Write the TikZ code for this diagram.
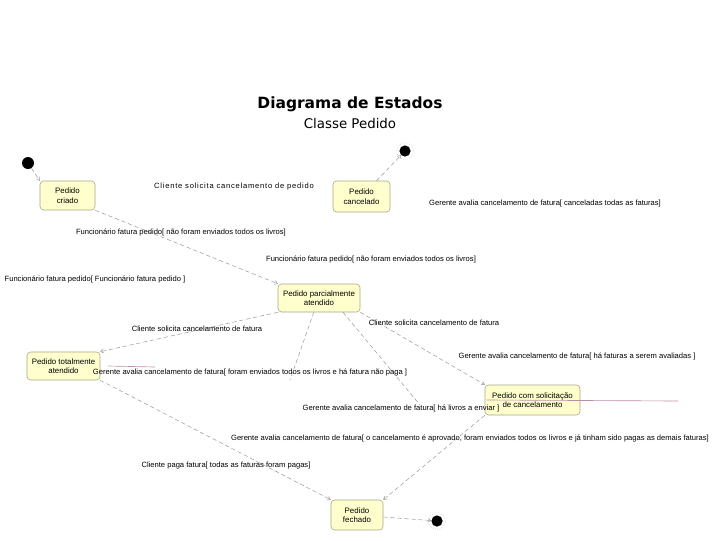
\documentclass[tikz,border=0pt]{standalone}
\usepackage{fontspec}
\setmainfont{Liberation Sans}
\newfontfamily\titlefont{DejaVu Sans}
\newfontfamily\widefont[LetterSpace=10]{Liberation Sans}
\usetikzlibrary{arrows.meta}
\definecolor{stateyellow}{RGB}{255,255,206}
\definecolor{stateborder}{RGB}{165,165,140}
\definecolor{linkgray}{RGB}{150,150,150}
\definecolor{mauve}{RGB}{190,140,170}

\begin{document}
\begin{tikzpicture}[x=0.025cm, y=-0.025cm,
    state/.style={draw=stateborder, fill=stateyellow, rounded corners=2.5pt, align=center,
                  font=\fontsize{5.6}{6.8}\selectfont, inner sep=1pt},
    initial/.style={circle, fill=black, inner sep=0pt, minimum size=0.3cm},
    final/.style={circle, fill=black, inner sep=0pt, minimum size=0.28cm},
    link/.style={-{To[length=2.5pt,width=3pt]}, draw=linkgray, densely dashed, line width=0.35pt},
    stub/.style={draw=mauve, line width=0.45pt},
    lbl/.style={font=\fontsize{5.4}{6.4}\selectfont, inner sep=0pt}]

    \useasboundingbox (0,0) rectangle (720,540);

    \node[font=\titlefont\bfseries\fontsize{11}{13}\selectfont] (titulo) at (350,104) {Diagrama de Estados};
    \node[font=\titlefont\fontsize{9.5}{11}\selectfont] (subtitulo) at (350,124) {Classe Pedido};

    \node[initial] (inicio) at (28,163) {};
    \node[final] (fimcancel) at (405,151) {};
    \node[final] (fimfechado) at (437,521) {};
    \foreach \n in {fimcancel,fimfechado} {
        \draw[gray!45, densely dotted] (\n) circle (0.21cm);
    }

    \node[state, minimum width=1.375cm, minimum height=0.725cm] (criado) at (67.5,195.5) {Pedido\\criado};
    \node[state, minimum width=1.425cm, minimum height=0.775cm] (cancelado) at (361.5,196.5) {Pedido\\cancelado};
    \node[state, minimum width=2.05cm, minimum height=0.7cm] (parcial) at (319,298) {Pedido parcialmente\\atendido};
    \node[state, minimum width=1.825cm, minimum height=0.7cm] (total) at (63.5,366) {Pedido totalmente\\atendido};
    \node[state, minimum width=2.375cm, minimum height=0.75cm] (solicitacao) at (532.5,400) {Pedido com solicitação\\de cancelamento};
    \node[state, minimum width=1.3cm, minimum height=0.75cm] (fechado) at (357,515) {Pedido\\fechado};

    \coordinate (pontaA) at (290,380);
    \coordinate (pontaB) at (420,405);
    \coordinate (rosaA) at (155,367);
    \coordinate (rosaB) at (678,401);

    \draw[link] (inicio) -- (criado.north west);
    \draw[link] (criado.south east) -- (parcial.north west);
    \draw[link] (cancelado) -- (fimcancel);
    \draw[link] (parcial.south west) -- (total.north east);
    \draw[link] (parcial.south east) -- (solicitacao.north west);
    \draw[link] (total.south east) -- (fechado.north west);
    \draw[link] (solicitacao.south west) -- (fechado.north east);
    \draw[link] (fechado) -- (fimfechado);
    \draw[link, -] (parcial.250) -- (pontaA);
    \draw[link, -] ([xshift=0.6cm]parcial.south) -- (pontaB);
    \draw[stub] ([xshift=0.2cm]total.east) -- (rosaA);
    \draw[stub] ([xshift=0.05cm]solicitacao.west) -- (rosaB);

    \node[lbl, font=\widefont\fontsize{5.4}{6.4}\selectfont] (l1) at (234,187) {Cliente solicita cancelamento de pedido};
    \node[lbl] (l2) at (545,204) {Gerente avalia cancelamento de fatura[ canceladas todas as faturas]};
    \node[lbl] (l3) at (181,232) {Funcionário fatura pedido[ não foram enviados todos os livros]};
    \node[lbl] (l4) at (371,259) {Funcionário fatura pedido[ não foram enviados todos os livros]};
    \node[lbl] (l5) at (95,279) {Funcionário fatura pedido[ Funcionário fatura pedido ]};
    \node[lbl] (l6) at (197,329) {Cliente solicita cancelamento de fatura};
    \node[lbl] (l7) at (434,323) {Cliente solicita cancelamento de fatura};
    \node[lbl] (l8) at (577,356) {Gerente avalia cancelamento de fatura[ há faturas a serem avaliadas ]};
    \node[lbl] (l9) at (250,372) {Gerente avalia cancelamento de fatura[ foram enviados todos os livros e há fatura não paga ]};
    \node[lbl] (l10) at (401,408) {Gerente avalia cancelamento de fatura[ há livros a enviar ]};
    \node[lbl] (l11) at (470,438) {Gerente avalia cancelamento de fatura[ o cancelamento é aprovado, foram enviados todos os livros e já tinham sido pagas as demais faturas]};
    \node[lbl] (l12) at (226,466) {Cliente paga fatura[ todas as faturas foram pagas]};
\end{tikzpicture}
\end{document}
